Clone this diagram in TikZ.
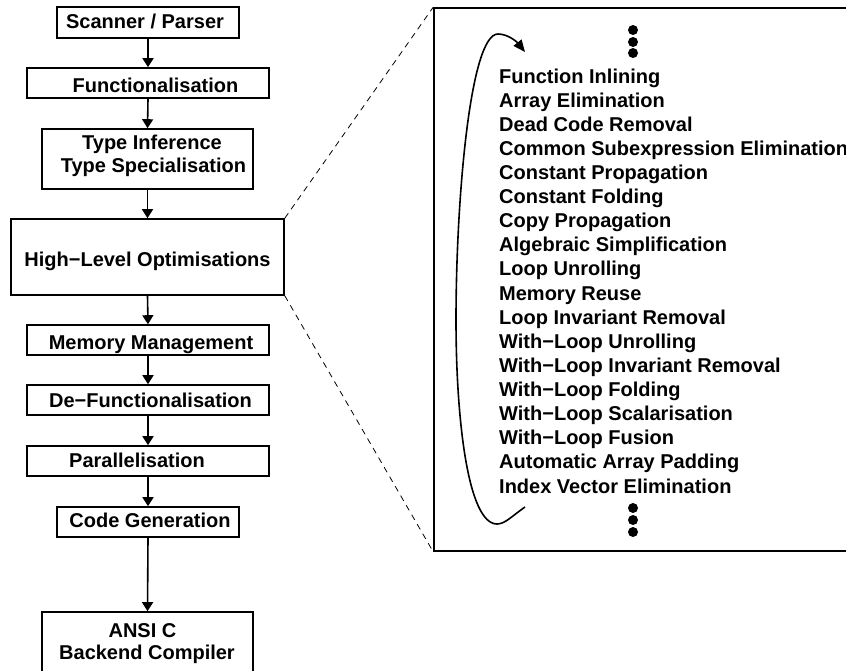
\documentclass[tikz,border=0pt]{standalone}
\usepackage{fontspec}
\setmainfont{Liberation Sans}
\usetikzlibrary{arrows.meta}
\begin{document}
\begin{tikzpicture}[x=1pt,y=-1pt,
  box/.style={draw, line width=1.6pt, inner sep=0pt},
  lbl/.style={inner sep=0pt, anchor=base, font=\bfseries\fontsize{20}{24}\selectfont},
  item/.style={inner sep=0pt, anchor=base west, font=\bfseries\fontsize{20}{24}\selectfont},
  flow/.style={line width=1.6pt, -{Triangle[length=9pt,width=11pt]}},
  zoomline/.style={line width=0.8pt, dash pattern=on 6pt off 5pt},
  dot/.style={circle, fill, inner sep=0pt, minimum size=10pt}]
\useasboundingbox (0,0) rectangle (846,670);
\clip (0,0) rectangle (846,670);
% left column boxes
\node[box, minimum width=182pt, minimum height=31pt] (sp) at (148,22.5) {};
\node[box, minimum width=242pt, minimum height=30pt] (fn) at (148,83) {};
\node[box, minimum width=211pt, minimum height=60pt] (ty) at (147.5,159) {};
\node[box, minimum width=273pt, minimum height=76pt] (hl) at (147.5,257) {};
\node[box, minimum width=242pt, minimum height=30pt] (mm) at (148,340) {};
\node[box, minimum width=242pt, minimum height=30pt] (df) at (148,400) {};
\node[box, minimum width=242pt, minimum height=30pt] (pa) at (148,461) {};
\node[box, minimum width=182pt, minimum height=30pt] (cg) at (148,522) {};
\node[box, minimum width=211pt, minimum height=88pt] (an) at (147.5,656) {};
% labels
\node[lbl] (tsp) at (145,28.5) {Scanner / Parser};
\node[lbl] (tfn) at (155.5,92) {Functionalisation};
\node[lbl] (tty1) at (152,149) {Type Inference};
\node[lbl] (tty2) at (153.5,172) {Type Specialisation};
\node[lbl] (thl) at (147.5,266) {High−Level Optimisations};
\node[lbl] (tmm) at (151,349) {Memory Management};
\node[lbl] (tdf) at (150.5,407) {De−Functionalisation};
\node[lbl] (tpa) at (137,467) {Parallelisation};
\node[lbl] (tcg) at (150,527) {Code Generation};
\node[lbl] (tan1) at (142.5,637) {ANSI C};
\node[lbl] (tan2) at (147,659) {Backend Compiler};
% flow arrows
\draw[flow] (sp.south) -- (fn.north);
\draw[flow] (fn.south) -- (ty.north);
\draw[flow] (ty.south) -- (hl.north);
\draw[flow] (hl.south) -- (mm.north);
\draw[flow] (mm.south) -- (df.north);
\draw[flow] (df.south) -- (pa.north);
\draw[flow] (pa.south) -- (cg.north);
\draw[flow] (cg.south) -- (an.north);
% zoomed box
\node[box, minimum width=500pt, minimum height=543pt] (big) at (684,279.5) {};
\draw[zoomline] (hl.north east) -- (big.north west);
\draw[zoomline] (hl.south east) -- (big.south west);
% list
\foreach \t [count=\i from 0] in {Function Inlining, Array Elimination, Dead Code Removal,
  Common Subexpression Elimination, Constant Propagation, Constant Folding,
  Copy Propagation, Algebraic Simplification, Loop Unrolling, Memory Reuse,
  Loop Invariant Removal, With−Loop Unrolling, With−Loop Invariant Removal,
  With−Loop Folding, With−Loop Scalarisation, With−Loop Fusion,
  Automatic Array Padding, Index Vector Elimination}
  \node[item] (l\i) at (499,83+\i*24.12) {\t};
% dots
\node[dot] (d1) at (633,30) {};
\node[dot] (d2) at (633,42) {};
\node[dot] (d3) at (633,53) {};
\node[dot] (d4) at (633,508) {};
\node[dot] (d5) at (633,520) {};
\node[dot] (d6) at (633,532) {};
% loop curve
\coordinate (cs) at (525,507);
\coordinate (ce) at (525,52);
\draw[line width=1.6pt, -{Triangle[length=12pt,width=10pt]}]
  (cs) .. controls (512,516) and (505,524) .. (497,524)
       .. controls (468,524) and (456,420) .. (456,320)
       .. controls (456,200) and (470,34) .. (498,34)
       .. controls (508,34) and (517,42) .. (ce);
\end{tikzpicture}
\end{document}
